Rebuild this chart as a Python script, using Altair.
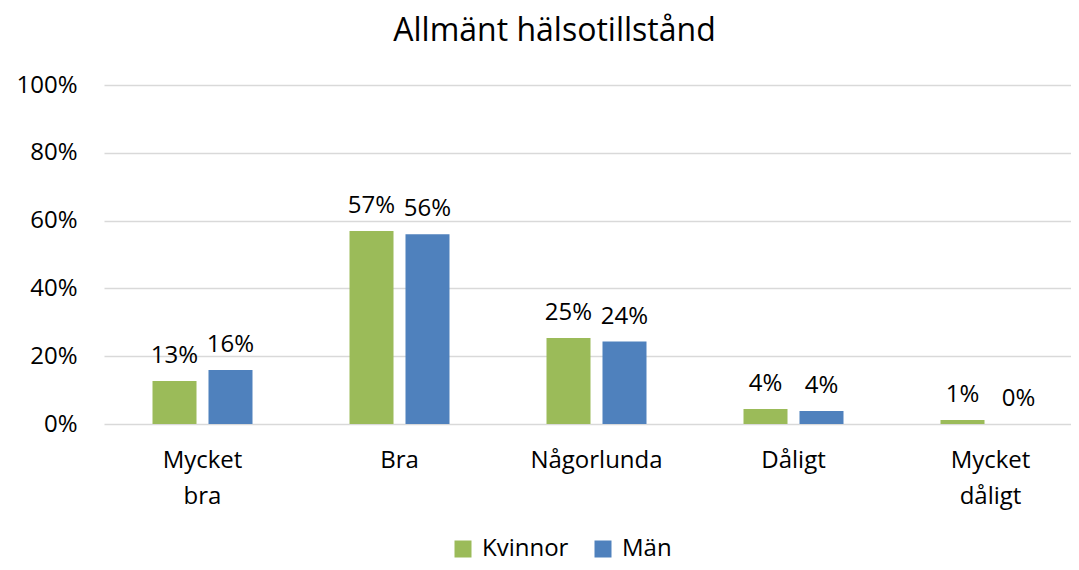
import altair as alt
import pandas as pd

categories = ["Mycket bra", "Bra", "Någorlunda", "Dåligt", "Mycket dåligt"]
series = ["Kvinnor", "Män"]
kvinnor = [0.127, 0.569, 0.254, 0.044, 0.012]
man = [0.159, 0.560, 0.243, 0.038, 0.0]
colors = ["#9BBB59", "#4F81BD"]
y_ticks = [0, 0.2, 0.4, 0.6, 0.8, 1.0]

rows = []
for i, c in enumerate(categories):
    rows.append({"cat": c, "serie": "Kvinnor", "val": kvinnor[i]})
    rows.append({"cat": c, "serie": "Män", "val": man[i]})
df = pd.DataFrame(rows)

FONT = "Open Sans"
FS = 24

x = alt.X("cat:N", sort=categories, title=None,
          scale=alt.Scale(paddingInner=0.4924, paddingOuter=0.2462, range=[0, 985]),
          axis=alt.Axis(labelExpr="split(datum.label, ' ')", labelAngle=0,
                        labelFontSize=FS, labelFont=FONT, labelColor="#000000",
                        labelPadding=24, labelLineHeight=36, ticks=False,
                        domain=False, labelBaseline="top"))
xo = alt.XOffset("serie:N", sort=series,
                 scale=alt.Scale(paddingInner=0.214, paddingOuter=0))
y = alt.Y("val:Q", title=None,
          scale=alt.Scale(domain=[0, 1]),
          axis=alt.Axis(values=y_ticks, format=".0%", labelFontSize=FS,
                        labelFont=FONT, labelColor="#000000", labelPadding=27,
                        ticks=False, domain=False, gridColor="#D9D9D9",
                        gridWidth=1.5))
color = alt.Color("serie:N", sort=series,
                  scale=alt.Scale(domain=series, range=colors),
                  legend=alt.Legend(title=None, orient="none", direction="horizontal",
                                    legendX=347, legendY=452, symbolType="square",
                                    symbolSize=289, symbolStrokeWidth=0,
                                    labelFontSize=FS, labelFont=FONT,
                                    labelColor="#000000", labelOffset=7,
                                    columnPadding=22, padding=0))

bars = alt.Chart(df).mark_bar().encode(x=x, xOffset=xo, y=y, color=color)
labels = alt.Chart(df).mark_text(dy=-18, baseline="alphabetic", fontSize=FS,
                                 font=FONT, color="#000000").encode(
    x=alt.X("cat:N", sort=categories), xOffset=alt.XOffset("serie:N", sort=series),
    y="val:Q", text=alt.Text("val:Q", format=".0%"))

chart = (bars + labels).properties(
    width=967, height=339,
    title=alt.TitleParams("Allmänt hälsotillstånd", fontSize=32, font=FONT,
                          fontWeight="normal", color="#000000", anchor="middle",
                          dx=-33, offset=25),
    autosize=alt.AutoSizeParams(type="none"),
    padding={"left": 96, "top": 77, "right": 0, "bottom": 138},
).configure_view(stroke=None)

chart.save("out.html", embed_options={"renderer": "svg", "actions": False})
